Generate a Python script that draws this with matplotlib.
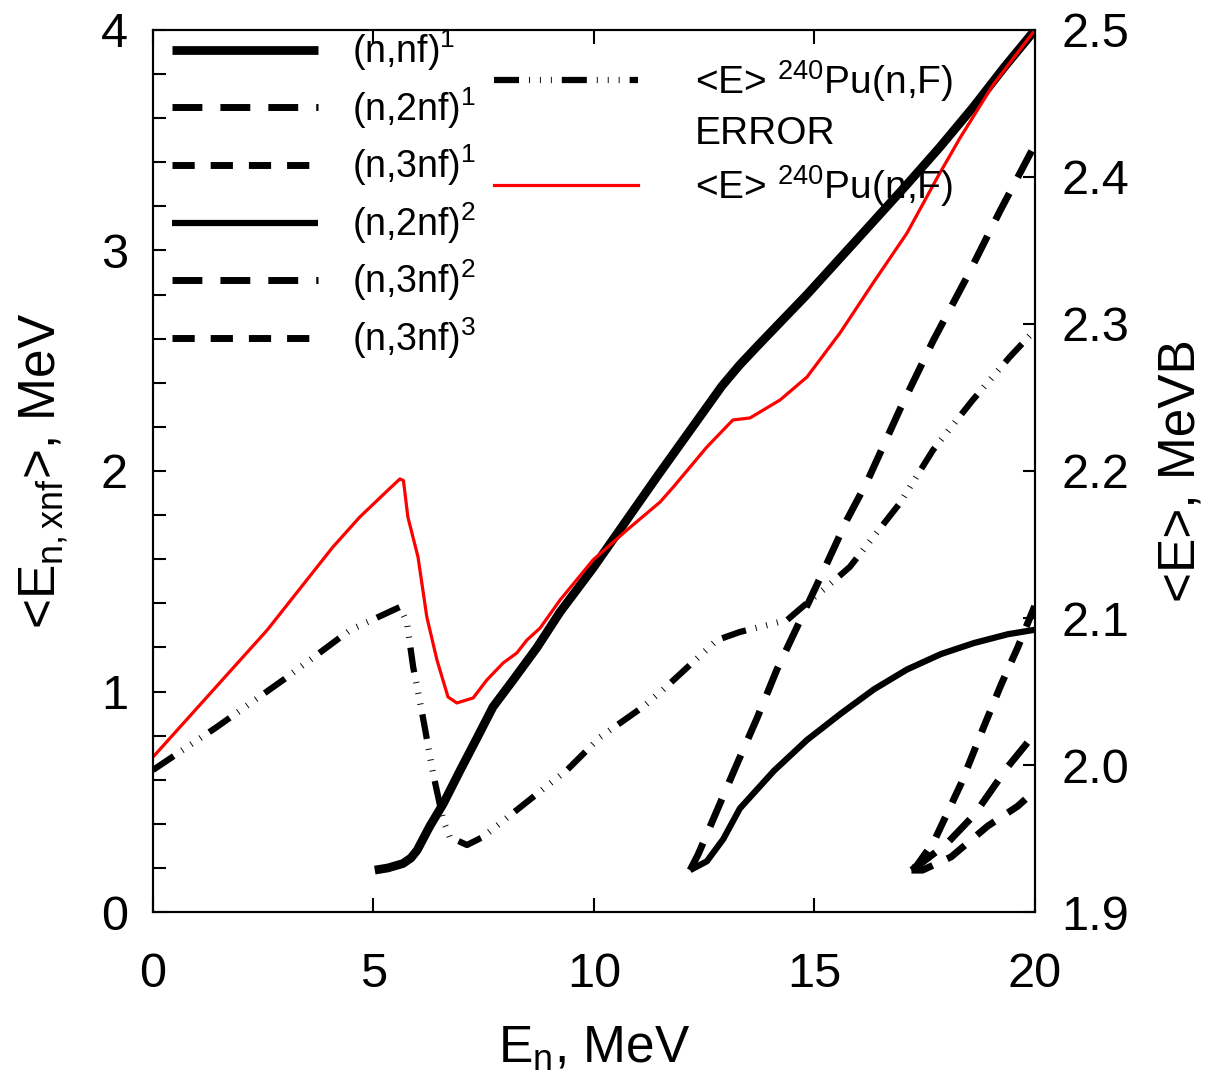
import matplotlib.pyplot as plt
from matplotlib.lines import Line2D
from matplotlib.ticker import MultipleLocator, FormatStrFormatter, FixedLocator

plt.rcParams['font.family'] = ['Liberation Sans', 'DejaVu Sans']
plt.rcParams['mathtext.fontset'] = 'custom'
plt.rcParams['mathtext.rm'] = 'Liberation Sans'
plt.rcParams['mathtext.it'] = 'Liberation Sans:italic'
plt.rcParams['mathtext.bf'] = 'Liberation Sans:bold'

# left axis: partial contributions <E_n,xnf>, MeV
e_nf1 = [5.03, 5.33, 5.67, 5.85, 5.99, 6.28, 6.58, 6.96, 7.35, 7.71, 8.16, 8.71, 9.23,
         9.98, 10.75, 11.45, 12.56, 12.9, 13.3, 13.7, 14.06, 14.83, 15.58, 16.33, 17.1,
         17.85, 18.6, 19.3, 20.0]
y_nf1 = [0.19, 0.20, 0.22, 0.245, 0.28, 0.39, 0.49, 0.64, 0.79, 0.93, 1.05, 1.20, 1.36,
         1.56, 1.78, 1.98, 2.29, 2.385, 2.48, 2.565, 2.64, 2.80, 2.965, 3.13, 3.30,
         3.47, 3.65, 3.83, 4.0]

e_2nf1 = [12.18, 12.36, 13.24, 13.70, 14.15, 14.60, 15.28, 15.74, 16.19, 16.94, 17.69,
          18.46, 19.21, 20.0]
y_2nf1 = [0.19, 0.26, 0.67, 0.88, 1.10, 1.29, 1.58, 1.78, 1.95, 2.28, 2.59, 2.88, 3.18,
          3.48]

e_3nf1 = [17.25, 17.32, 17.71, 18.32, 18.84, 19.23, 19.61, 20.0]
y_3nf1 = [0.20, 0.21, 0.32, 0.58, 0.84, 1.03, 1.20, 1.39]

e_2nf2 = [12.18, 12.56, 12.93, 13.31, 14.08, 14.83, 15.60, 16.35, 17.10, 17.87, 18.62,
          19.39, 20.0]
y_2nf2 = [0.19, 0.23, 0.33, 0.47, 0.64, 0.78, 0.90, 1.01, 1.10, 1.17, 1.22, 1.26, 1.28]

e_3nf2 = [17.2, 17.35, 18.00, 18.62, 19.39, 20.0]
y_3nf2 = [0.19, 0.21, 0.31, 0.44, 0.66, 0.81]

e_3nf3 = [17.2, 17.45, 18.10, 18.93, 19.61, 20.0]
y_3nf3 = [0.19, 0.19, 0.25, 0.39, 0.48, 0.55]

# right axis: average energy <E>, MeV
e_avg = [0.0, 2.59, 4.08, 4.69, 5.40, 5.60, 5.68, 5.78, 6.01, 6.21, 6.44, 6.69, 6.89,
         7.26, 7.57, 7.94, 8.25, 8.48, 8.78, 9.23, 9.98, 10.75, 11.50, 11.80, 12.56,
         13.15, 13.54, 14.22, 14.83, 15.58, 16.33, 17.10, 17.78, 18.30, 19.05, 20.0]
avg = [2.0054, 2.0918, 2.1483, 2.1687, 2.1890, 2.1946, 2.1935, 2.1687, 2.1415, 2.1007,
       2.0714, 2.0463, 2.0422, 2.0456, 2.0578, 2.0694, 2.0762, 2.0850, 2.0932, 2.1122,
       2.1395, 2.1599, 2.1789, 2.1891, 2.2163, 2.2347, 2.2361, 2.2483, 2.2639, 2.2939,
       2.3279, 2.3619, 2.3993, 2.4265, 2.4626, 2.5]

e_err = [0.0, 1.45, 2.95, 4.47, 5.60, 5.76, 5.90, 6.12, 6.35, 6.58, 6.73, 7.12, 7.48,
         8.25, 9.39, 10.14, 11.11, 11.56, 12.79, 13.31, 14.38, 14.83, 15.28, 15.80,
         16.94, 17.69, 18.59, 19.43, 20.0]
err = [1.9966, 2.0259, 2.0578, 2.0918, 2.1075, 2.0966, 2.0667, 2.0327, 1.9946, 1.9626,
       1.9510, 1.9456, 1.9510, 1.9694, 1.9966, 2.0190, 2.0395, 2.0510, 2.0850, 2.0905,
       2.0986, 2.1102, 2.1211, 2.1347, 2.1782, 2.2143, 2.2483, 2.2776, 2.2959]

long_dash = (0, (4.3, 2.6))
short_dash = (0, (3.2, 2.3))
dash_dots = (0, (4.0, 1.6, 0.15, 1.6, 0.15, 1.6, 0.15, 1.6))


def main():
    fig = plt.figure(figsize=(12.17, 10.86), dpi=100)
    ax = fig.add_axes([0.1257, 0.1602, 0.7247, 0.8122])
    ax2 = ax.twinx()

    h1, = ax.plot(e_nf1, y_nf1, color='black', lw=6.3, solid_capstyle='butt',
                  solid_joinstyle='round', label=r'(n,nf)$^\mathregular{1}$')
    h2, = ax.plot(e_2nf1, y_2nf1, color='black', lw=5, ls=long_dash,
                  label=r'(n,2nf)$^\mathregular{1}$')
    h3, = ax.plot(e_3nf1, y_3nf1, color='black', lw=5, ls=short_dash,
                  label=r'(n,3nf)$^\mathregular{1}$')
    h4, = ax.plot(e_2nf2, y_2nf2, color='black', lw=4.5, solid_capstyle='butt',
                  solid_joinstyle='round', label=r'(n,2nf)$^\mathregular{2}$')
    h5, = ax.plot(e_3nf2, y_3nf2, color='black', lw=5, ls=long_dash,
                  label=r'(n,3nf)$^\mathregular{2}$')
    h6, = ax.plot(e_3nf3, y_3nf3, color='black', lw=5, ls=short_dash,
                  label=r'(n,3nf)$^\mathregular{3}$')

    g1, = ax2.plot(e_err, err, color='black', lw=4.5, ls=dash_dots, dash_capstyle='butt')
    g2, = ax2.plot(e_avg, avg, color='red', lw=2.3, solid_joinstyle='round')
    blank = Line2D([], [], color='none')

    ax.set_xlim(0, 20)
    ax.set_ylim(0, 4)
    ax2.set_ylim(1.9, 2.5)

    ax.xaxis.set_major_locator(MultipleLocator(5))
    ax.yaxis.set_major_locator(MultipleLocator(1))
    ax.yaxis.set_minor_locator(MultipleLocator(0.2))
    ax2.yaxis.set_major_locator(FixedLocator([1.9, 2.0, 2.1, 2.2, 2.3, 2.4, 2.5]))
    ax2.yaxis.set_major_formatter(FormatStrFormatter('%.1f'))

    ax.tick_params(axis='x', which='both', direction='in', top=True, length=10,
                   width=1.5, labelsize=35, pad=29)
    ax.tick_params(axis='y', which='both', direction='in', length=9, width=1.5,
                   labelsize=35, pad=18)
    ax2.tick_params(axis='y', direction='in', length=9, width=1.5, labelsize=35, pad=19)

    for a in (ax, ax2):
        for s in a.spines.values():
            s.set_linewidth(1.5)

    ax.set_xlabel(r'E$_\mathregular{n}$, MeV', fontsize=37, labelpad=20)
    ax.set_ylabel(r'<E$_\mathregular{n,xnf}$>, MeV', fontsize=37, labelpad=22)
    ax2.set_ylabel('<E>, MeVB', fontsize=37, labelpad=20)

    ax.legend(handles=[h1, h2, h3, h4, h5, h6], loc='upper left',
              bbox_to_anchor=(0.0215, 1.003), frameon=False, fontsize=27,
              handlelength=3.9, handletextpad=0.9, labelspacing=0.32,
              borderpad=0, borderaxespad=0)
    pu = '<E> $^\\mathregular{240}$Pu(n,F)'
    ax2.legend(handles=[g1, blank, g2], labels=[pu, 'ERROR', pu], loc='upper left',
               bbox_to_anchor=(0.387, 0.968), frameon=False, fontsize=28,
               handlelength=3.7, handletextpad=1.45, labelspacing=0.3,
               borderpad=0, borderaxespad=0)

    fig.savefig('out.png', dpi=100)


if __name__ == '__main__':
    main()
